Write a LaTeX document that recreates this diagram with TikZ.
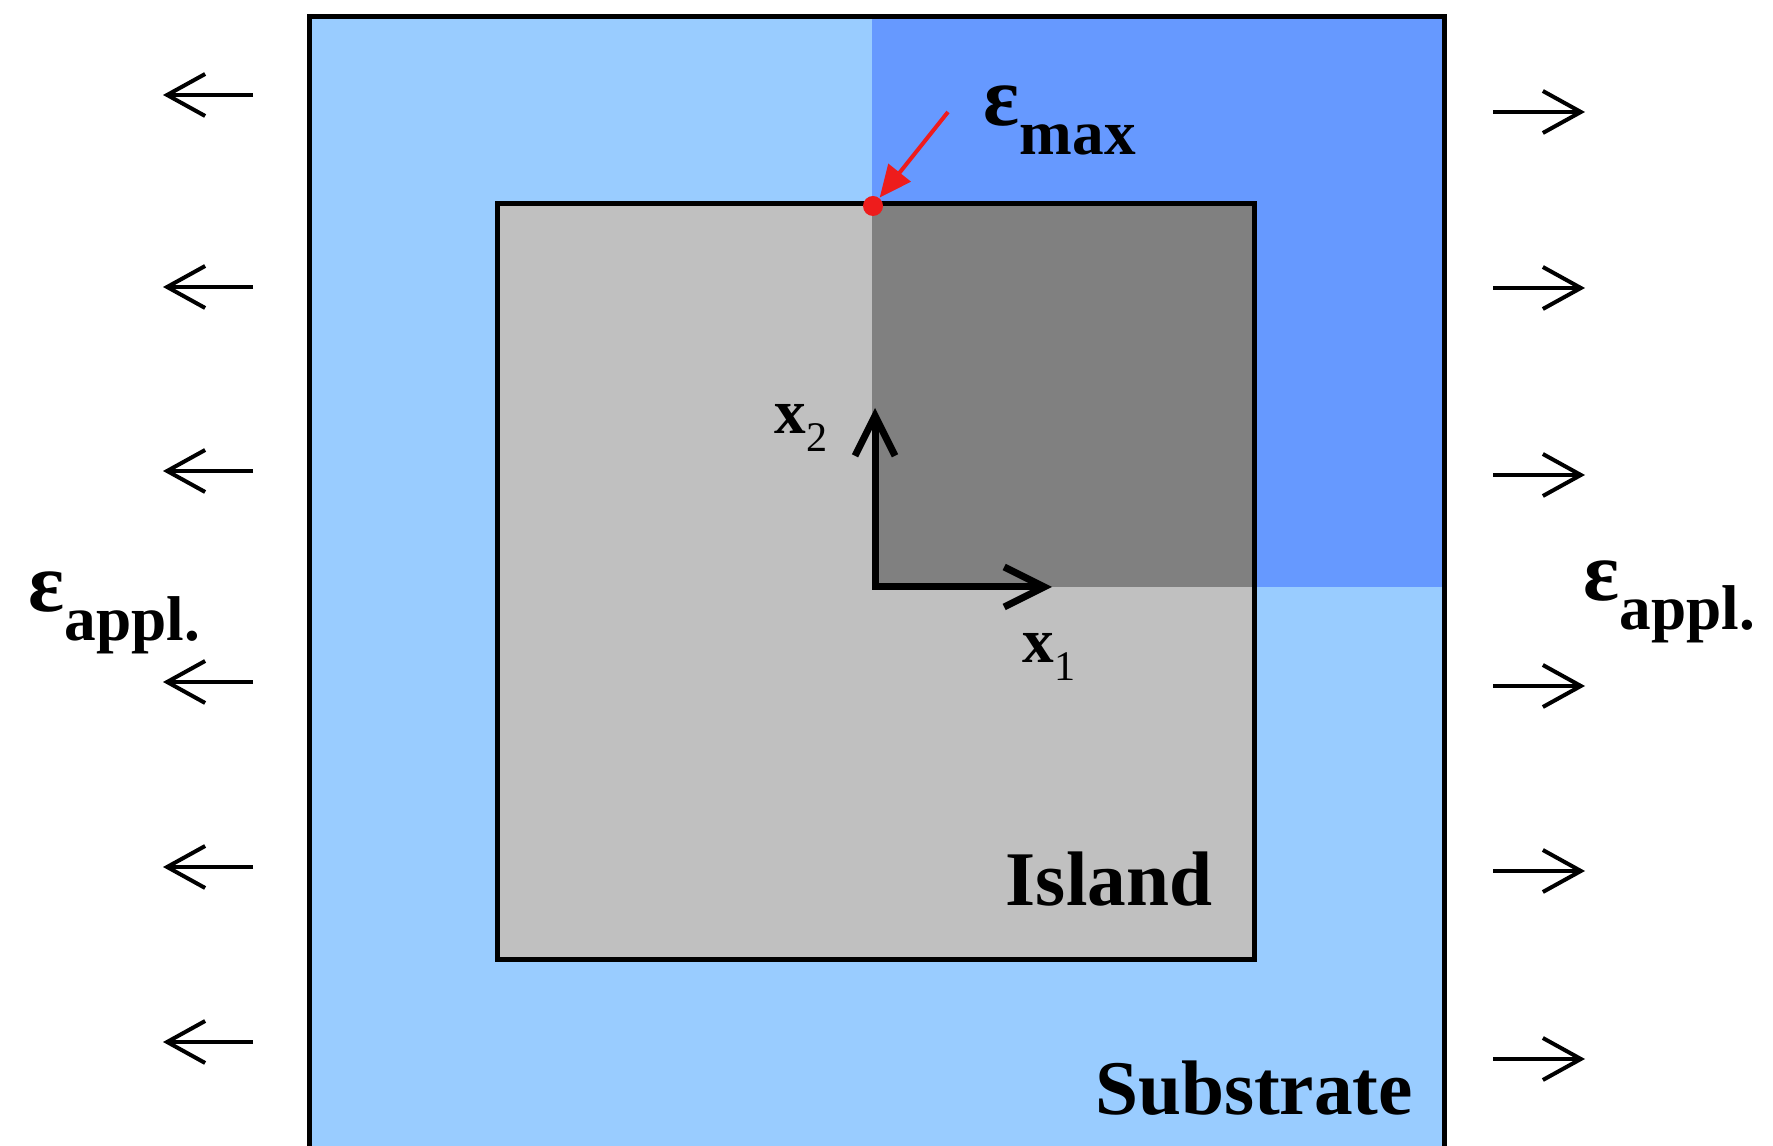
\documentclass[tikz,border=0pt]{standalone}
\usepackage{fontspec}
\setmainfont{Liberation Serif}
\usepackage{xcolor}
\definecolor{subblue}{HTML}{99CCFF}
\definecolor{subdark}{HTML}{6699FF}
\definecolor{islgray}{HTML}{C0C0C0}
\definecolor{isldark}{HTML}{808080}
\definecolor{dotred}{HTML}{EE1C1C}
\usetikzlibrary{arrows.meta}

\newcommand{\strainlbl}[1]{{\fontsize{24}{26}\selectfont\bfseries ε}\raisebox{-8pt}{\fontsize{18}{20}\selectfont\bfseries #1}}
\newcommand{\axislbl}[1]{{\fontsize{18}{20}\selectfont\bfseries x}\raisebox{-5pt}{\fontsize{12}{14}\selectfont #1}}

\begin{document}
\begin{tikzpicture}[
  x=0.1mm, y=-0.1mm,
  frame/.style={line width=0.5mm,draw=black},
  pull/.style={-{Straight Barb[length=3.8mm,width=4.2mm]},line width=0.4mm},
  axis/.style={{Straight Barb[length=4mm,width=4mm]}-{Straight Barb[length=4mm,width=4mm]},line width=0.7mm},
  pointer/.style={-{Triangle[length=3.2mm,width=2.8mm]},line width=0.4mm,draw=dotred,fill=dotred},
  lbl/.style={inner sep=0pt,anchor=base west},
  big/.style={inner sep=0pt,anchor=base,font=\fontsize{22}{24}\selectfont\bfseries}
]
\useasboundingbox (0,0) rectangle (1773,1146);

% substrate and island
\fill[subblue] (309,17) rectangle (1444,1146);
\fill[subdark] (872,17) rectangle (1444,587);
\draw[frame] (309,1146) -- (309,17) -- (1444,17) -- (1444,1146);
\fill[islgray] (497,204) rectangle (1254,960);
\fill[isldark] (872,204) rectangle (1254,587);
\draw[frame] (497,204) rectangle (1254,960);

\node[big] (island) at (1109,906) {Island};
\node[big] (substrate) at (1254,1115) {Substrate};

% applied strain
\foreach \yl/\yr [count=\i] in {95/112,287/288,471/475,682/686,867/871,1042/1059} {
  \coordinate (ls\i) at (253,\yl);
  \coordinate (le\i) at (163,\yl);
  \coordinate (rs\i) at (1493,\yr);
  \coordinate (re\i) at (1585,\yr);
  \draw[pull] (ls\i) -- (le\i);
  \draw[pull] (rs\i) -- (re\i);
}
\node[lbl] (appl-l) at (28,612) {\strainlbl{appl.}};
\node[lbl] (appl-r) at (1583,601) {\strainlbl{appl.}};

% axes
\coordinate (o) at (875,587);
\coordinate (e1) at (1052,587);
\coordinate (e2) at (875,408);
\draw[axis] (e2) -- (o) -- (e1);
\node[lbl] (x2) at (774,434) {\axislbl{2}};
\node[lbl] (x1) at (1022,663) {\axislbl{1}};

% maximum strain
\node[circle,fill=dotred,inner sep=0pt,minimum size=2mm] (dot) at (873,206) {};
\coordinate (tail) at (948,112);
\draw[pointer] (tail) -- (dot);
\node[lbl] (max) at (983,126) {\strainlbl{max}};
\end{tikzpicture}
\end{document}
